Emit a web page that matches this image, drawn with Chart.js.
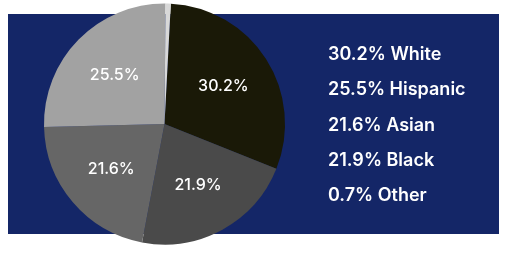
<!DOCTYPE html>
<html>
<head>
<meta charset="utf-8">
<script src="https://cdn.jsdelivr.net/npm/chart.js@4/dist/chart.umd.min.js"></script>
<style>
  html, body { margin: 0; padding: 0; background: #ffffff; }
  #wrap { position: relative; width: 507px; height: 253px; overflow: hidden; }
  #panel { position: absolute; left: 8px; top: 14px; width: 491px; height: 220px; background: #142667; }
  #c { position: absolute; left: 0; top: 0; }
</style>
</head>
<body>
<div id="wrap">
  <div id="panel"></div>
  <canvas id="c" width="507" height="253"></canvas>
</div>
<script>
const categories = ["White", "Black", "Asian", "Hispanic", "Other"];
const shares = [30.2, 21.9, 21.6, 25.5, 0.7];
const sliceColors = ["#1a1907", "#4a4a4a", "#666666", "#a2a2a2", "#d8d8d8"];
const legendOrder = ["White", "Hispanic", "Asian", "Black", "Other"];
const FONT = "Inter, 'Noto Sans', sans-serif";

const sliceLabels = {
  id: "sliceLabels",
  afterDatasetsDraw(chart) {
    const ctx = chart.ctx;
    const meta = chart.getDatasetMeta(0);
    ctx.save();
    ctx.fillStyle = "#ffffff";
    ctx.font = "500 16px " + FONT;
    ctx.textAlign = "center";
    ctx.textBaseline = "middle";
    meta.data.forEach((arc, i) => {
      if (shares[i] < 5) return;
      const mid = (arc.startAngle + arc.endAngle) / 2;
      const r = arc.outerRadius * 0.58;
      const x = arc.x + Math.cos(mid) * r;
      const y = arc.y + Math.sin(mid) * r;
      ctx.fillText(shares[i].toFixed(1) + "%", x, y);
    });
    ctx.restore();
  }
};

const sideLegend = {
  id: "sideLegend",
  afterDraw(chart) {
    const ctx = chart.ctx;
    ctx.save();
    ctx.fillStyle = "#ffffff";
    ctx.font = "600 18px " + FONT;
    ctx.textAlign = "left";
    ctx.textBaseline = "alphabetic";
    legendOrder.forEach((name, k) => {
      const i = categories.indexOf(name);
      ctx.fillText(shares[i].toFixed(1) + "% " + name, 328, 60 + k * 35.3);
    });
    ctx.restore();
  }
};

new Chart(document.getElementById("c"), {
  type: "pie",
  data: {
    labels: categories,
    datasets: [{
      data: shares,
      backgroundColor: sliceColors,
      borderWidth: 0
    }]
  },
  options: {
    responsive: false,
    animation: false,
    rotation: 3,
    layout: { padding: { left: 44, right: 222, top: 3.5, bottom: 8.5 } },
    plugins: {
      legend: { display: false },
      tooltip: { enabled: false }
    }
  },
  plugins: [sliceLabels, sideLegend]
});
</script>
</body>
</html>
